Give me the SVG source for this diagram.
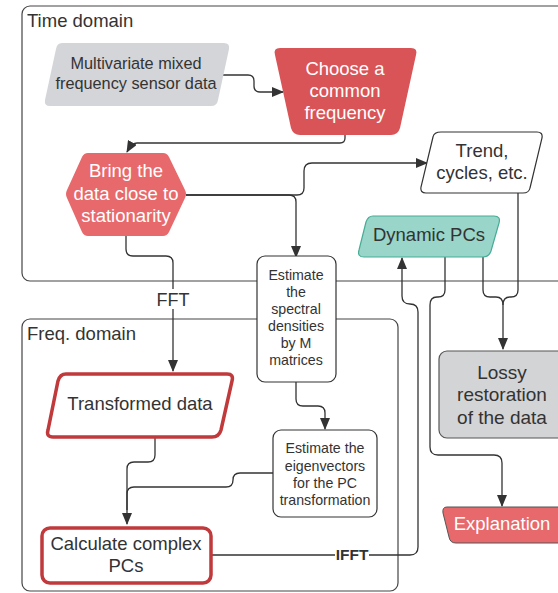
<svg xmlns="http://www.w3.org/2000/svg" width="558" height="593" viewBox="0 0 558 593">
<defs>
<marker id="ah" markerWidth="12" markerHeight="10" refX="11" refY="5" orient="auto" markerUnits="userSpaceOnUse">
<path d="M0,0 L12,5 L0,10 Z" fill="#333"/>
</marker>
<style>
text{font-family:"Liberation Sans",Arial,sans-serif;fill:#333;text-anchor:middle;font-size:18.5px}
.w{fill:#fff}
.s{font-size:14.2px}
.c{fill:none;stroke:#333;stroke-width:1.3}
.cont{fill:none;stroke:#444;stroke-width:1.2}
.lbl{text-anchor:start}
</style>
</defs>
<rect width="558" height="593" fill="#fff"/>
<g id="time-domain">
<rect class="cont" x="22" y="6" width="570" height="275" rx="8"/>
<text class="lbl" x="27" y="27">Time domain</text>
</g>
<g id="freq-domain">
<rect class="cont" x="22" y="319" width="376" height="272" rx="8"/>
<text class="lbl" x="27" y="340">Freq. domain</text>
</g>
<g id="connectors">
<path class="c" d="M217,75 H248 q6,0 6,6 v5 q0,6 6,6 H283" marker-end="url(#ah)"/>
<path class="c" d="M345,135 v3 q0,5 -5,5 H137 q-5,0 -10,9" marker-end="url(#ah)"/>
<path class="c" d="M186,195 H289 q7,0 7,7 V257" marker-end="url(#ah)"/>
<path class="c" d="M186,195 H297 q7,0 7,-7 V171 q0,-8 8,-8 H427" marker-end="url(#ah)"/>
<path class="c" d="M126,236 V249 q0,7 7,7 H166 q7,0 7,7 V289"/>
<path class="c" d="M173,309 V371" marker-end="url(#ah)"/>
<path class="c" d="M296,382 V399 q0,7 7,7 h15 q7,0 7,7 V429" marker-end="url(#ah)"/>
<path class="c" d="M155,438 V455 q0,7 -7,7 h-14 q-7,0 -7,7 V524" marker-end="url(#ah)"/>
<path class="c" d="M273,473 H240 q-7,0 -7,7 q0,7 -7,7 H134 q-7,0 -7,7 V510"/>
<path class="c" d="M518,193 V290 q0,7 -7,7 h-1 q-7,0 -7,8 V349" marker-end="url(#ah)"/>
<path class="c" d="M483,257 V290 q0,7 7,7 h6 q7,0 7,8"/>
<path class="c" d="M445,257 V290 q0,7 -7,7 h-1 q-7,0 -7,8 V447 q0,8 8,8 H494 q8,0 8,8 V506" marker-end="url(#ah)"/>
<path class="c" d="M211,555 H335 M369,555 H410 q8,0 8,-8 V312 q0,-8 -8,-8 q-8,0 -8,-8 V258" marker-end="url(#ah)"/>
<text x="352" y="560" style="font-size:15.5px;font-weight:bold">IFFT</text>
<text x="173" y="306" style="font-size:18px">FFT</text>
</g>
<g id="multivariate">
<path d="M62,43 H224 q6,0 5,6 L218,100 q-1,6 -7,6 H50 q-6,0 -5,-6 L56,49 q1,-6 6,-6 Z" fill="#d3d5d8"/>
<text x="136" y="69" style="font-size:16.3px">Multivariate mixed</text>
<text x="136" y="89" style="font-size:16.3px">frequency sensor data</text>
</g>
<g id="choose">
<path d="M280,48 H411 q7,0 5,7 L400,128 q-2,7 -9,7 H300 q-7,0 -9,-7 L275,55 q-2,-7 5,-7 Z" fill="#d95457"/>
<text class="w" x="345" y="75">Choose a</text>
<text class="w" x="345" y="97">common</text>
<text class="w" x="345" y="119">frequency</text>
</g>
<g id="bring">
<path d="M88,153 H163 q4,0 6,4 L185,190 q2,4 0,8 L169,232 q-2,4 -6,4 H88 q-4,0 -6,-4 L67,198 q-2,-4 0,-8 L82,157 q2,-4 6,-4 Z" fill="#e8696b"/>
<text class="w" x="126" y="177">Bring the</text>
<text class="w" x="126" y="200">data close to</text>
<text class="w" x="126" y="222">stationarity</text>
</g>
<g id="trend">
<path d="M441,132 H537 q6,0 5,6 L530,188 q-1,5 -7,5 H426 q-6,0 -5,-6 L433,137 q1,-5 8,-5 Z" fill="#fff" stroke="#333" stroke-width="1.2"/>
<text x="482" y="157">Trend,</text>
<text x="482" y="179">cycles, etc.</text>
</g>
<g id="dynamic">
<path d="M373,216 H494 q7,0 5,7 L491,251 q-2,6 -8,6 H364 q-7,0 -5,-7 L366,222 q2,-6 7,-6 Z" fill="#99d5c8" stroke="#46ad95" stroke-width="1.2"/>
<text x="429" y="241">Dynamic PCs</text>
</g>
<g id="spectral">
<rect x="257" y="256" width="79" height="126" rx="8" fill="#fff" stroke="#333" stroke-width="1.2"/>
<text class="s" x="296" y="280">Estimate</text>
<text class="s" x="296" y="297">the</text>
<text class="s" x="296" y="314">spectral</text>
<text class="s" x="296" y="331">densities</text>
<text class="s" x="296" y="348">by M</text>
<text class="s" x="296" y="365">matrices</text>
</g>
<g id="eigen">
<rect x="273" y="430" width="104" height="87" rx="8" fill="#fff" stroke="#333" stroke-width="1.2"/>
<text class="s" x="325" y="453">Estimate the</text>
<text class="s" x="325" y="471">eigenvectors</text>
<text class="s" x="325" y="488">for the PC</text>
<text class="s" x="325" y="505">transformation</text>
</g>
<g id="transformed">
<path d="M66,374 H227 q7,0 5,7 L221,430 q-2,7 -9,7 H53 q-7,0 -5,-7 L58,381 q2,-7 8,-7 Z" fill="#fff" stroke="#c0393b" stroke-width="3.5"/>
<text x="140" y="410">Transformed data</text>
</g>
<g id="calculate">
<rect x="42" y="528" width="169" height="55" rx="8" fill="#fff" stroke="#c0393b" stroke-width="3.5"/>
<text x="126" y="550">Calculate complex</text>
<text x="126" y="572">PCs</text>
</g>
<g id="lossy">
<rect x="439" y="351" width="130" height="87" rx="8" fill="#d3d4d6" stroke="#555" stroke-width="1.2"/>
<text x="502" y="379" style="font-size:19px">Lossy</text>
<text x="502" y="401" style="font-size:19px">restoration</text>
<text x="502" y="424" style="font-size:19px">of the data</text>
</g>
<g id="explanation">
<path d="M447,507 H570 V543 H456 q-6,0 -7,-6 L443,513 q-1,-6 4,-6 Z" fill="#e8696b" stroke="#555" stroke-width="1"/>
<text class="w" x="502" y="530">Explanation</text>
</g>
</svg>
